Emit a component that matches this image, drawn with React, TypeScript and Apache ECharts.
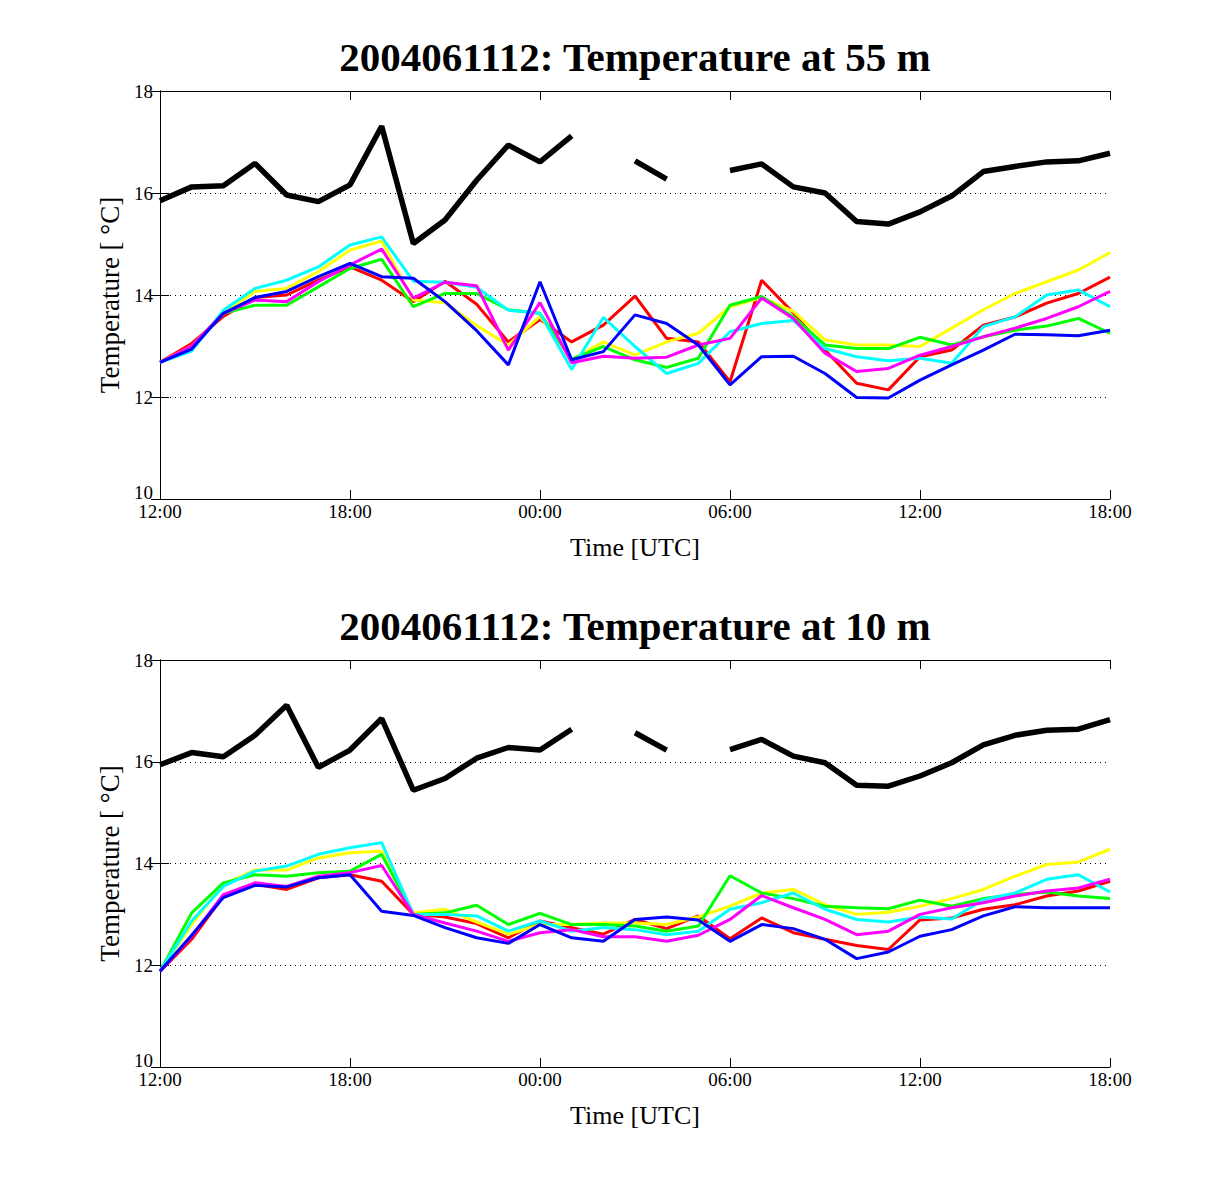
import * as echarts from 'echarts';
import { useEffect, useRef } from 'react';

// hours after 2004-06-11 12:00 UTC
const hourOffsets = [
  0, 1, 2, 3, 4, 5, 6, 7, 8, 9, 10, 11, 12, 13, 14, 15, 16, 17, 18, 19, 20, 21, 22, 23, 24, 25, 26,
  27, 28, 29, 30,
];
const timeTickLabels = ['12:00', '18:00', '00:00', '06:00', '12:00', '18:00'];

// 55 m level
const obs55 = [
  15.85, 16.12, 16.14, 16.58, 15.96, 15.83, 16.16, 17.31, 15.01, 15.47, 16.25, 16.94, 16.61, 17.12,
  null, 16.63, 16.27, null, 16.44, 16.57, 16.12, 16.0, 15.44, 15.39, 15.63, 15.94, 16.42, 16.52,
  16.61, 16.63, 16.78,
];
const red55 = [
  12.68, 13.05, 13.58, 13.95, 14.0, 14.29, 14.55, 14.29, 13.87, 14.27, 13.82, 13.08, 13.52, 13.08,
  13.41, 13.98, 13.15, 13.08, 12.3, 14.29, 13.65, 12.92, 12.27, 12.14, 12.79, 12.92, 13.41, 13.57,
  13.84, 14.03, 14.35,
];
const yellow55 = [
  12.68, 13.0, 13.64, 14.07, 14.13, 14.46, 14.88, 15.06, 13.9, 13.85, 13.4, 13.02, 13.58, 12.73,
  13.08, 12.82, 13.08, 13.25, 13.77, 13.95, 13.68, 13.12, 13.02, 13.02, 12.99, 13.35, 13.71, 14.03,
  14.26, 14.49, 14.83,
];
const green55 = [
  12.68, 12.99, 13.64, 13.8, 13.8, 14.16, 14.52, 14.7, 13.77, 14.03, 14.03, 13.71, 13.64, 12.74,
  12.99, 12.73, 12.58, 12.76, 13.8, 13.97, 13.57, 13.02, 12.95, 12.95, 13.17, 13.02, 13.18, 13.31,
  13.39, 13.54, 13.25,
];
const cyan55 = [
  12.68, 12.9, 13.7, 14.13, 14.29, 14.55, 14.98, 15.14, 14.27, 14.25, 14.15, 13.7, 13.64, 12.54,
  13.56, 12.99, 12.46, 12.66, 13.28, 13.44, 13.5, 12.95, 12.79, 12.71, 12.76, 12.66, 13.38, 13.57,
  14.0, 14.1, 13.77,
];
const magenta55 = [
  12.68, 13.0, 13.64, 13.9, 13.87, 14.26, 14.59, 14.9, 13.94, 14.25, 14.18, 12.92, 13.85, 12.67,
  12.8, 12.76, 12.78, 13.02, 13.15, 13.94, 13.54, 12.86, 12.5, 12.56, 12.82, 12.99, 13.18, 13.35,
  13.54, 13.77, 14.07,
];
const blue55 = [
  12.68, 12.94, 13.64, 13.95, 14.07, 14.36, 14.62, 14.36, 14.33, 13.87, 13.3, 12.63, 14.26, 12.73,
  12.89, 13.61, 13.44, 13.02, 12.24, 12.79, 12.8, 12.46, 11.99, 11.98, 12.33, 12.63, 12.92, 13.23,
  13.22, 13.2, 13.31,
];

// 10 m level
const obs10 = [
  15.94, 16.18, 16.1, 16.52, 17.11, 15.89, 16.23, 16.85, 15.44, 15.67, 16.07, 16.28, 16.23, 16.64,
  null, 16.57, 16.23, null, 16.24, 16.44, 16.11, 15.98, 15.54, 15.52, 15.72, 15.98, 16.33, 16.52,
  16.62, 16.64, 16.83,
];
const red10 = [
  11.88, 12.51, 13.36, 13.59, 13.49, 13.72, 13.78, 13.65, 13.0, 12.95, 12.82, 12.54, 12.87, 12.74,
  12.61, 12.9, 12.72, 12.97, 12.52, 12.93, 12.64, 12.51, 12.39, 12.31, 12.89, 12.93, 13.1, 13.19,
  13.36, 13.46, 13.65,
];
const yellow10 = [
  11.88, 12.8, 13.59, 13.87, 13.87, 14.11, 14.21, 14.24, 13.03, 13.1, 12.85, 12.61, 12.8, 12.8,
  12.83, 12.83, 12.8, 12.95, 13.16, 13.42, 13.49, 13.19, 13.0, 13.04, 13.16, 13.31, 13.49, 13.75,
  13.98, 14.03, 14.28,
];
const green10 = [
  11.88, 13.03, 13.62, 13.78, 13.75, 13.82, 13.85, 14.18, 13.0, 13.03, 13.18, 12.8, 13.02, 12.8,
  12.8, 12.77, 12.67, 12.77, 13.76, 13.42, 13.31, 13.16, 13.13, 13.11, 13.28, 13.16, 13.31, 13.39,
  13.44, 13.36, 13.31,
];
const cyan10 = [
  11.88, 12.87, 13.55, 13.85, 13.95, 14.18, 14.31, 14.41, 13.0, 13.0, 12.97, 12.67, 12.87, 12.67,
  12.74, 12.7, 12.6, 12.67, 13.1, 13.23, 13.42, 13.1, 12.9, 12.85, 12.95, 12.91, 13.29, 13.42,
  13.69, 13.78, 13.44,
];
const magenta10 = [
  11.88, 12.57, 13.39, 13.62, 13.55, 13.75, 13.82, 13.96, 13.0, 12.83, 12.67, 12.47, 12.64, 12.7,
  12.56, 12.56, 12.47, 12.59, 12.9, 13.37, 13.13, 12.9, 12.6, 12.67, 13.0, 13.13, 13.23, 13.36,
  13.46, 13.52, 13.69,
];
const blue10 = [
  11.88, 12.59, 13.33, 13.57, 13.54, 13.72, 13.78, 13.06, 12.98, 12.74, 12.54, 12.43, 12.8, 12.54,
  12.47, 12.9, 12.95, 12.89, 12.47, 12.8, 12.72, 12.51, 12.13, 12.26, 12.57, 12.7, 12.97, 13.15,
  13.13, 13.13, 13.13,
];

const FONT = '"Liberation Serif", "Times New Roman", serif';

const panels = [
  {
    title: '2004061112: Temperature at 55 m',
    top: 91,
    height: 408,
    obs: obs55,
    runs: [red55, yellow55, green55, cyan55, magenta55, blue55],
  },
  {
    title: '2004061112: Temperature at 10 m',
    top: 660,
    height: 407,
    obs: obs10,
    runs: [red10, yellow10, green10, cyan10, magenta10, blue10],
  },
];
const runColors = ['#ff0000', '#ffff00', '#00ff00', '#00ffff', '#ff00ff', '#0000ff'];

const toPairs = (vals: (number | null)[]) =>
  hourOffsets.map((h, i) => [h, vals[i] == null ? '-' : vals[i]]);

function buildOption() {
  const tick = { show: true, inside: true, length: 9, lineStyle: { color: '#000', width: 1 } };
  const line = { show: true, lineStyle: { color: '#000', width: 1 } };
  const xBase = { type: 'value', min: 0, max: 30, interval: 6, axisLine: line, axisTick: tick, splitLine: { show: false } };
  const yBase = { type: 'value', min: 10, max: 18, interval: 2, axisLine: line, axisTick: tick };

  const grid: any[] = [];
  const title: any[] = [];
  const xAxis: any[] = [];
  const yAxis: any[] = [];
  const series: any[] = [];

  panels.forEach((p, k) => {
    grid.push({ left: 160, width: 950, top: p.top, height: p.height, show: false });
    title.push({
      text: p.title,
      left: 635,
      top: p.top - 55,
      textAlign: 'center',
      padding: 0,
      textStyle: { fontFamily: FONT, fontSize: 41, fontWeight: 'bold', color: '#000' },
    });
    xAxis.push({
      ...xBase,
      gridIndex: k,
      position: 'bottom',
      name: 'Time [UTC]',
      nameLocation: 'middle',
      nameGap: 35,
      nameTextStyle: { fontFamily: FONT, fontSize: 26, color: '#000' },
      axisLabel: {
        fontFamily: FONT,
        fontSize: 19,
        color: '#000',
        margin: 3,
        formatter: (v: number) => timeTickLabels[v / 6] ?? '',
      },
    });
    xAxis.push({ ...xBase, gridIndex: k, position: 'top', axisLabel: { show: false } });
    yAxis.push({
      ...yBase,
      gridIndex: k,
      position: 'left',
      name: 'Temperature [ °C]',
      nameLocation: 'middle',
      nameGap: 35,
      nameTextStyle: { fontFamily: FONT, fontSize: 27, color: '#000' },
      axisLabel: {
        fontFamily: FONT,
        fontSize: 19,
        color: '#000',
        margin: 7,
        // lowest label is lifted so it sits above the first time label
        formatter: (v: number) => (v === 10 ? `{lo|${v}}` : `${v}`),
        rich: { lo: { fontFamily: FONT, fontSize: 19, color: '#000', padding: [0, 0, 14, 0] } },
      },
      splitLine: { show: true, lineStyle: { color: '#000', width: 1, type: [1, 4] } },
    });
    yAxis.push({
      ...yBase,
      gridIndex: k,
      position: 'right',
      axisLabel: { show: false },
      splitLine: { show: false },
    });

    const xi = k * 2;
    const yi = k * 2;
    series.push({
      type: 'line',
      xAxisIndex: xi,
      yAxisIndex: yi,
      data: toPairs(p.obs),
      showSymbol: false,
      connectNulls: false,
      lineStyle: { color: '#000', width: 5.5 },
      itemStyle: { color: '#000' },
    });
    p.runs.forEach((vals, j) => {
      series.push({
        type: 'line',
        xAxisIndex: xi,
        yAxisIndex: yi,
        data: toPairs(vals),
        showSymbol: false,
        lineStyle: { color: runColors[j], width: 3 },
        itemStyle: { color: runColors[j] },
      });
    });
  });

  return { animation: false, backgroundColor: '#fff', title, grid, xAxis, yAxis, series };
}

export default function App() {
  const containerRef = useRef<HTMLDivElement>(null);

  useEffect(() => {
    const chart = echarts.init(containerRef.current!, undefined, { renderer: 'svg' });
    chart.setOption(buildOption());
    return () => chart.dispose();
  }, []);

  return (
    <div
      ref={containerRef}
      style={{ position: 'absolute', left: 0, top: 0, width: 1227, height: 1200, background: '#fff' }}
    />
  );
}
